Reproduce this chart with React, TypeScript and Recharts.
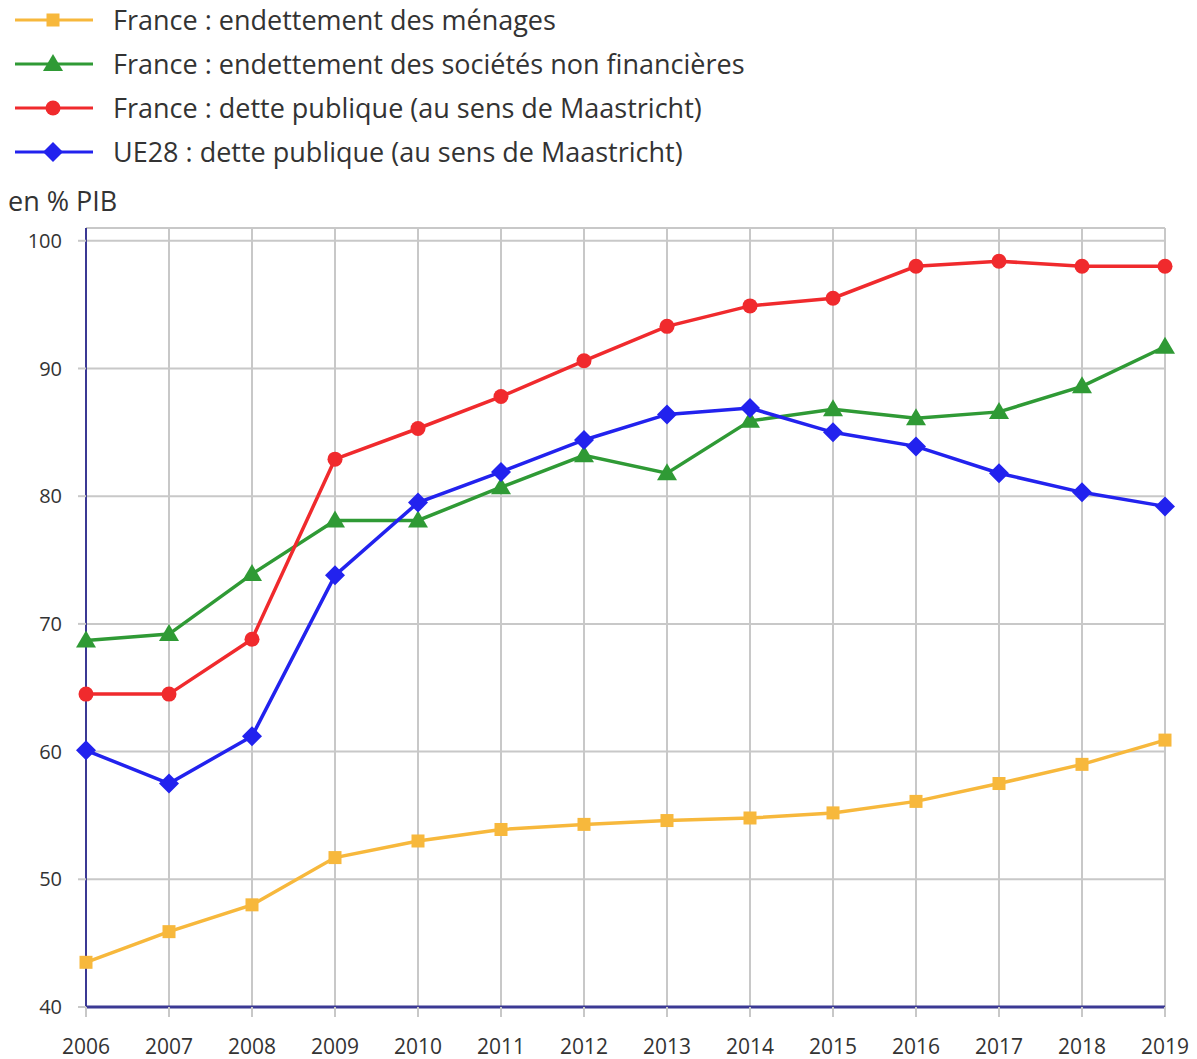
import { CartesianGrid, Line, LineChart, XAxis, YAxis } from 'recharts';

const years = ['2006', '2007', '2008', '2009', '2010', '2011', '2012', '2013', '2014', '2015', '2016', '2017', '2018', '2019'];
const menages = [43.5, 45.9, 48.0, 51.7, 53.0, 53.9, 54.3, 54.6, 54.8, 55.2, 56.1, 57.5, 59.0, 60.9];
const societes = [68.7, 69.2, 73.9, 78.1, 78.1, 80.7, 83.2, 81.8, 85.9, 86.8, 86.1, 86.6, 88.6, 91.7];
const detteFrance = [64.5, 64.5, 68.8, 82.9, 85.3, 87.8, 90.6, 93.3, 94.9, 95.5, 98.0, 98.4, 98.0, 98.0];
const detteUE = [60.1, 57.5, 61.2, 73.8, 79.5, 81.9, 84.4, 86.4, 86.9, 85.0, 83.9, 81.8, 80.3, 79.2];
const yTicks = [40, 50, 60, 70, 80, 90, 100];

const data = years.map((year, i) => ({
  year,
  menages: menages[i],
  societes: societes[i],
  detteFrance: detteFrance[i],
  detteUE: detteUE[i],
}));

const YELLOW = '#f7b83c';
const GREEN = '#2f9a35';
const RED = '#f02a2d';
const BLUE = '#2222ee';
const AXIS = '#3b3994';
const FONT = '"Open Sans", sans-serif';

type Shape = 'square' | 'triangle' | 'circle' | 'diamond';

function Marker({ cx, cy, shape, color }: { cx: number; cy: number; shape: Shape; color: string }) {
  if (cx == null || cy == null) return null;
  if (shape === 'square') return <rect x={cx - 6.5} y={cy - 6.5} width={13} height={13} fill={color} />;
  if (shape === 'triangle')
    return <polygon points={`${cx},${cy - 10} ${cx + 10},${cy + 7} ${cx - 10},${cy + 7}`} fill={color} />;
  if (shape === 'circle') return <circle cx={cx} cy={cy} r={7.5} fill={color} />;
  return <polygon points={`${cx},${cy - 10} ${cx + 10},${cy} ${cx},${cy + 10} ${cx - 10},${cy}`} fill={color} />;
}

const series: { key: string; name: string; color: string; shape: Shape }[] = [
  { key: 'menages', name: 'France : endettement des ménages', color: YELLOW, shape: 'square' },
  { key: 'societes', name: 'France : endettement des sociétés non financières', color: GREEN, shape: 'triangle' },
  { key: 'detteFrance', name: 'France : dette publique (au sens de Maastricht)', color: RED, shape: 'circle' },
  { key: 'detteUE', name: 'UE28 : dette publique (au sens de Maastricht)', color: BLUE, shape: 'diamond' },
];

function LegendBlock() {
  return (
    <div style={{ position: 'absolute', left: 0, top: 0 }}>
      {series.map((s, i) => (
        <div key={s.key} style={{ position: 'absolute', top: 2 + i * 44, left: 0, height: 36, width: 900 }}>
          <svg width={100} height={36} style={{ position: 'absolute', left: 0, top: 0 }}>
            <line x1={15} y1={18} x2={93} y2={18} stroke={s.color} strokeWidth={3} />
            <Marker cx={53} cy={18} shape={s.shape} color={s.color} />
          </svg>
          <span
            style={{
              position: 'absolute',
              left: 113,
              top: 0,
              lineHeight: '36px',
              fontSize: 27,
              fontFamily: FONT,
              color: '#333',
              whiteSpace: 'nowrap',
            }}
          >
            {s.name}
          </span>
        </div>
      ))}
    </div>
  );
}

export default function App() {
  return (
    <div style={{ position: 'absolute', left: 0, top: 0, width: 1197, height: 1059, background: '#fff' }}>
      <LineChart
        width={1197}
        height={1059}
        data={data}
        margin={{ top: 228, right: 32, bottom: 4, left: 18 }}
      >
        <CartesianGrid stroke="#c8c8c8" strokeWidth={2} />
        <XAxis
          dataKey="year"
          height={48}
          interval={0}
          axisLine={{ stroke: AXIS, strokeWidth: 3 }}
          tickLine={{ stroke: '#c8c8c8', strokeWidth: 2 }}
          tickSize={10}
          tickMargin={22}
          tick={{ fill: '#333', fontSize: 21, fontFamily: FONT }}
        />
        <YAxis
          type="number"
          domain={[40, 101]}
          ticks={yTicks}
          width={68}
          axisLine={{ stroke: AXIS, strokeWidth: 2 }}
          tickLine={{ stroke: '#c8c8c8', strokeWidth: 2 }}
          tickSize={8}
          tickMargin={16}
          tick={{ fill: '#333', fontSize: 20, fontFamily: FONT }}
        />
        {series.map((s) => (
          <Line
            key={s.key}
            dataKey={s.key}
            name={s.name}
            stroke={s.color}
            strokeWidth={3.5}
            isAnimationActive={false}
            dot={(p: any) => <Marker key={`${s.key}-${p.index}`} cx={p.cx} cy={p.cy} shape={s.shape} color={s.color} />}
            activeDot={false}
          />
        ))}
      </LineChart>
      <LegendBlock />
      <div
        style={{
          position: 'absolute',
          left: 8,
          top: 182,
          fontSize: 27,
          fontFamily: FONT,
          color: '#333',
          whiteSpace: 'nowrap',
        }}
      >
        en % PIB
      </div>
    </div>
  );
}
